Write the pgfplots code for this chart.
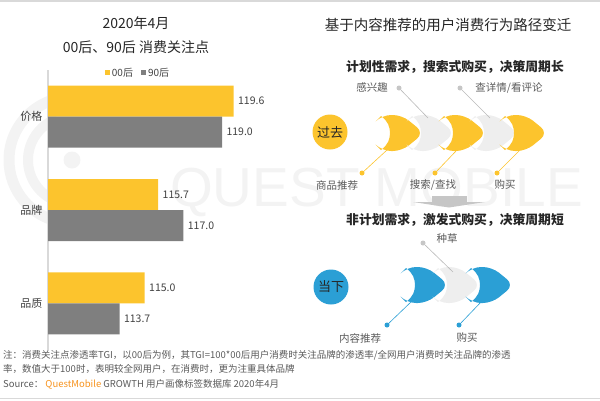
\documentclass[border=0pt]{standalone}
\usepackage{fontspec}
\setmainfont{Noto Sans CJK SC}
\newfontfamily\wmfont{Liberation Sans}
\usepackage{pgfplots}
\pgfplotsset{compat=1.18}
\definecolor{qyellow}{HTML}{FCC42D}
\definecolor{qgray}{HTML}{7F7F7F}
\definecolor{qblue}{HTML}{2B9FD5}
\definecolor{qlight}{HTML}{EEEEEE}
\definecolor{qtext}{HTML}{404040}
\definecolor{qdark}{HTML}{262626}
\definecolor{qnote}{HTML}{595959}
\definecolor{qorange}{HTML}{F7931E}
\definecolor{qwm}{HTML}{F3F3F3}
\definecolor{qline}{HTML}{D9D9D9}
\newcommand{\fs}[1]{\fontsize{#1}{#1}\selectfont}
\newcommand{\chev}[3]{%
  \fill[#3] (#1,#2-17) [rounded corners=9pt] -- (#1+1,#2-18) -- (#1+21,#2-18) -- (#1+43,#2) -- (#1+21,#2+18) -- (#1+1,#2+18) [sharp corners] -- (#1,#2+17) .. controls (#1+7,#2+12) and (#1+9,#2+6) .. (#1+9,#2) .. controls (#1+9,#2-6) and (#1+7,#2-12) .. (#1,#2-17) -- cycle;}
\begin{document}
\begin{tikzpicture}
\useasboundingbox (0,0) rectangle (600pt,-400pt);
\begin{scope}[x=1pt,y=-1pt]
  % watermark
  \draw[qwm, line width=11pt] (72,160) ++(95:63pt) arc[start angle=95, end angle=265, radius=63pt];
  \draw[qwm, line width=10pt] (72,160) ++(110:44pt) arc[start angle=110, end angle=250, radius=44pt];
  \fill[qwm] (72,160) circle (8.5pt);
  \node[anchor=base west, inner sep=0, font=\wmfont\fs{55}, text=qwm] at (170,206) {QUEST MOBILE};
  % frame lines
  \draw[qline, line width=1.5pt] (0,1) -- (600,1);
  \draw[qline, line width=1.5pt] (0,398.5) -- (600,398.5);
  % left titles
  \node[font=\fs{14}, text=qdark] at (136,23) {2020年4月};
  \node[font=\fs{14}, text=qdark] at (136,47) {00后、90后 消费关注点};
  % right title
  \node[font=\fs{14.5}, text=qdark] at (448,25) {基于内容推荐的用户消费行为路径变迁};
  \node[font=\bfseries\fs{12.8}, text=qdark] at (455,67) {计划性需求，搜索式购买，决策周期长};
  % past diagram
  \fill[qyellow] (330,132) circle (17.5pt);
  \node[font=\fs{13}, text=qdark] at (330,132) {过去};
  \chev{381}{133}{qyellow}
  \chev{412}{133}{qlight}
  \chev{444}{133}{qyellow}
  \chev{475}{133}{qlight}
  \chev{505}{133}{qyellow}
  \draw[gray!55, line width=0.6pt] (399,88) -- (428,118);
  \draw[gray!55, line width=0.6pt] (460,88) -- (490,118);
  \fill[gray!45] (399,88) circle (2.5pt);
  \fill[gray!45] (460,88) circle (2.5pt);
  \node[font=\fs{10.5}, text=qnote] at (372,87) {感兴趣};
  \node[font=\fs{10.5}, text=qnote] at (509,88) {查详情/看评论};
  \draw[qyellow, line width=0.6pt] (362,173) -- (387,150);
  \draw[qyellow, line width=0.6pt] (435,173) -- (457,150);
  \draw[qyellow, line width=0.6pt] (497,173) -- (520,150);
  \fill[qyellow] (362,173) circle (2.5pt);
  \fill[qyellow] (435,173) circle (2.5pt);
  \fill[qyellow] (497,173) circle (2.5pt);
  \node[font=\fs{10.5}, text=qnote] at (337,185) {商品推荐};
  \node[font=\fs{10.5}, text=qnote] at (433,185) {搜索/查找};
  \node[font=\fs{10.5}, text=qnote] at (505,185) {购买};
  % arrow
  \fill[gray!45] (432,196) rectangle (467,202);
  \fill[gray!45] (413,202) -- (485,202) -- (449,207.5) -- cycle;
  \node[font=\bfseries\fs{12.8}, text=qdark] at (455,220) {非计划需求，激发式购买，决策周期短};
  % present diagram
  \fill[qblue] (331,287) circle (17.5pt);
  \node[font=\fs{13}, text=qdark] at (331,287) {当下};
  \chev{406}{285}{qblue}
  \chev{438}{285}{qlight}
  \chev{471}{285}{qblue}
  \draw[gray!55, line width=0.6pt] (423,243) -- (453,272);
  \fill[gray!45] (423,243) circle (2.5pt);
  \node[font=\fs{10.5}, text=qnote] at (447,238) {种草};
  \draw[qblue, line width=0.6pt] (387,325) -- (412,301);
  \draw[qblue, line width=0.6pt] (459,325) -- (482,301);
  \fill[qblue] (387,325) circle (2.5pt);
  \fill[qblue] (459,325) circle (2.5pt);
  \node[font=\fs{10.5}, text=qnote] at (360,338) {内容推荐};
  \node[font=\fs{10.5}, text=qnote] at (467,338) {购买};
  % footnote
  \node[anchor=west, inner sep=0, font=\fs{9.5}, text=qnote] at (3,355) {注：消费关注点渗透率TGI，以00后为例，其TGI=100*00后用户消费时关注品牌的渗透率/全网用户消费时关注品牌的渗透};
  \node[anchor=west, inner sep=0, font=\fs{9.5}, text=qnote] at (3,369) {率，数值大于100时，表明较全网用户，在消费时，更为注重具体品牌};
  \node[anchor=west, inner sep=0, font=\fs{9.5}, text=qnote] at (3,384) {Source： \textcolor{qorange}{QuestMobile} GROWTH 用户画像标签数据库 2020年4月};
\end{scope}
\begin{axis}[
  at={(48pt,-350pt)}, anchor=south west,
  scale only axis, width=232pt, height=280pt,
  xmin=110, xmax=122, ymin=-0.5, ymax=2.5,
  xbar, bar width=31pt,
  axis x line=none,
  axis y line=left,
  y axis line style={-, draw=qline, line width=1.5pt},
  ytick={0,1,2}, yticklabels={品质,品牌,价格},
  ytick style={draw=none},
  yticklabel style={font=\fs{11}, text=qtext},
  nodes near coords={\pgfmathprintnumber[fixed,zerofill,precision=1,assume math mode=true]{\pgfplotspointmeta}},
  every node near coord/.append style={font=\fs{10.5}, text=qtext, xshift=1pt},
  legend columns=2,
  legend style={at={(0.388,0.99)}, anchor=center, draw=none, fill=none, font=\fs{10}, text=qtext, /tikz/every even column/.append style={column sep=6pt}},
]
\addplot[fill=qyellow, draw=none, bar shift=15.5pt, legend image code/.code={\fill[qyellow] (0pt,-2.5pt) rectangle (5pt,2.5pt);}] coordinates {(119.6,2) (115.7,1) (115.0,0)};
\addplot[fill=qgray, draw=none, bar shift=-15.5pt, legend image code/.code={\fill[qgray] (0pt,-2.5pt) rectangle (5pt,2.5pt);}] coordinates {(119.0,2) (117.0,1) (113.7,0)};
\legend{00后,90后}
\end{axis}
\end{tikzpicture}
\end{document}
